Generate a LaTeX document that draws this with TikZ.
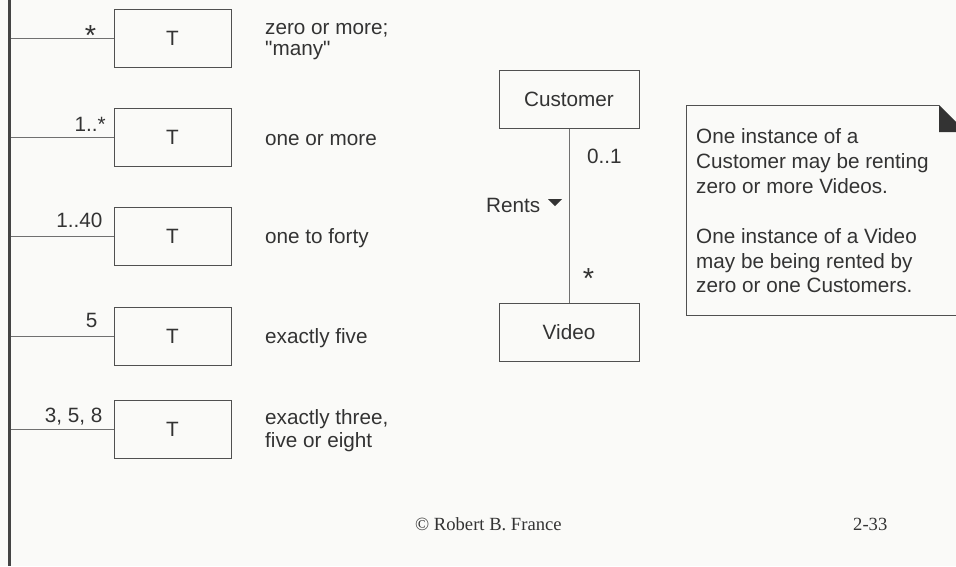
\documentclass[tikz,border=0pt]{standalone}
\usepackage{fontspec}
\setmainfont{Liberation Sans}
\newfontfamily\straightfont{Liberation Sans}[Ligatures=TeXOff]
\newfontfamily\footfont{Liberation Serif}
\definecolor{paper}{HTML}{FAFAF8}
\definecolor{ink}{HTML}{333333}
\definecolor{edge}{HTML}{505050}
\definecolor{wire}{HTML}{707070}
\definecolor{barc}{HTML}{444444}
\newcommand{\bodysize}{\fontsize{20.7}{24}\selectfont}
\tikzset{
  tbox/.style={draw=edge, line width=1pt, minimum width=117pt, minimum height=58pt,
    inner sep=0pt, text=ink, font=\bodysize},
  classbox/.style={draw=edge, line width=1pt, minimum width=140pt, minimum height=58pt,
    inner sep=0pt, text=ink, font=\bodysize},
  txt/.style={inner sep=0pt, text=ink, font=\bodysize, anchor=base west},
  mult/.style={inner sep=0pt, text=ink, font=\bodysize, anchor=base east},
  star/.style={inner sep=0pt, text=ink, font=\fontsize{29}{30}\selectfont, anchor=base},
  conn/.style={draw=wire, line width=1pt},
  foot/.style={inner sep=0pt, text=ink, font=\footfont\fontsize{18.6}{20}\selectfont, anchor=base west},
}
\begin{document}
\begin{tikzpicture}[x=1pt,y=-1pt]
\useasboundingbox (0,0) rectangle (956,566);
\fill[paper] (0,0) rectangle (956,566);
\clip (0,0) rectangle (956,566);

% left rail
\draw[barc, line width=3pt] (9.5,0) -- (9.5,566);

% multiplicity examples
\node[tbox] (t1) at (172.5,38) {T};
\node[tbox] (t2) at (172.5,137) {T};
\node[tbox] (t3) at (172.5,236.5) {T};
\node[tbox] (t4) at (172.5,336) {T};
\node[tbox] (t5) at (172.5,429) {T};

\coordinate (r1) at (11,38);
\coordinate (r2) at (11,137);
\coordinate (r3) at (11,236.5);
\coordinate (r4) at (11,336);
\coordinate (r5) at (11,429);
\foreach \i in {1,...,5} \draw[conn] (r\i) -- (t\i.west);

\node[star] (m1) at (90.5,45.5) {*};
\node[mult] (m2) at (106,131) {1..*};
\node[mult] (m3) at (102.5,227) {1..40};
\node[mult] (m4) at (97.5,327) {5};
\node[mult] (m5) at (102.5,422) {3, 5, 8};

\node[txt] (d1a) at (265,34) {zero or more;};
\node[txt] (d1b) at (265,55) {\straightfont "many"};
\node[txt] (d2) at (265,145) {one or more};
\node[txt] (d3) at (265,243) {one to forty};
\node[txt] (d4) at (265,343) {exactly five};
\node[txt] (d5a) at (265,424) {exactly three,};
\node[txt] (d5b) at (265,447) {five or eight};

% Customer -- Video association
\node[classbox] (cust) at (569,99) {Customer};
\node[classbox] (video) at (569,332.5) {Video};
\draw[conn] (cust.south) -- (video.north);
\node[txt] (lo) at (587,163) {0..1};
\node[txt] (rents) at (486,212) {Rents};
\fill[ink] (548,199) -- (562,199) -- (555,206) -- cycle;
\node[star] (hi) at (588.5,288) {*};

% note
\draw[edge, line width=1pt] (939,105) -- (686,105) -- (686,315) -- (970,315);
\fill[ink] (939,105) -- (966,132) -- (939,132) -- cycle;
\node[txt] (n1) at (696,143) {One instance of a};
\node[txt] (n2) at (696,168) {Customer may be renting};
\node[txt] (n3) at (696,193) {zero or more Videos.};
\node[txt] (n4) at (696,243) {One instance of a Video};
\node[txt] (n5) at (696,268) {may be being rented by};
\node[txt] (n6) at (696,292) {zero or one Customers.};

% footer
\node[foot] (copy) at (415,530) {© Robert B. France};
\node[foot] (page) at (853,530) {2-33};
\end{tikzpicture}
\end{document}
